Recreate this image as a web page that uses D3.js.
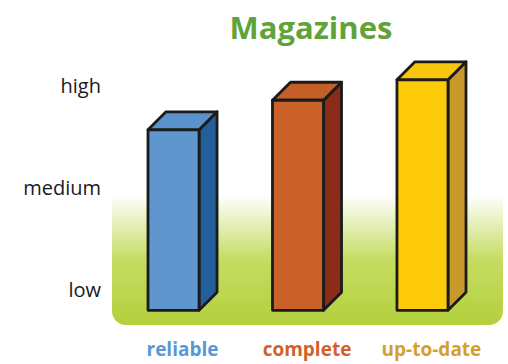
<!DOCTYPE html>
<html>
<head>
<meta charset="utf-8">
<script src="https://cdn.jsdelivr.net/npm/d3@7"></script>
<style>
  body { margin: 0; background: #fff; }
  svg { display: block; }
</style>
</head>
<body>
<svg id="chart"></svg>
<script>
const title = 'Magazines'
const categories = ['reliable', 'complete', 'up-to-date']
const values = [2.59, 2.88, 3.08]
const levelLabels = ['low', 'medium', 'high']
const levelValues = [1, 2, 3]
const baseValue = 0.82

const frontColors = ['#5f96cd', '#c96128', '#fdcb0a']
const sideColors = ['#235f9a', '#8b2c18', '#c89a2c']
const topColors = ['#5a93cb', '#c55f28', '#f8c60c']
const labelColors = ['#5b97d0', '#d0612c', '#d3a02e']

const w = 508
const h = 364
const depth = 18

const svg = d3.select('#chart').attr('width', w).attr('height', h)

const defs = svg.append('defs')
const grad = defs
  .append('linearGradient')
  .attr('id', 'panelGrad')
  .attr('x1', 0)
  .attr('y1', 0)
  .attr('x2', 0)
  .attr('y2', 1)
grad.append('stop').attr('offset', '0%').attr('stop-color', '#ffffff')
grad.append('stop').attr('offset', '10%').attr('stop-color', '#ffffff')
grad.append('stop').attr('offset', '55%').attr('stop-color', '#c6dc62')
grad.append('stop').attr('offset', '100%').attr('stop-color', '#b3d03c')

svg
  .append('rect')
  .attr('x', 112)
  .attr('y', 180)
  .attr('width', 391)
  .attr('height', 145)
  .attr('rx', 14)
  .attr('fill', 'url(#panelGrad)')

const x = d3.scaleBand().domain(categories).range([148, 448]).paddingInner(0.59).paddingOuter(0)
const y = d3.scaleLinear().domain([1, 3]).range([292, 88])

svg
  .append('text')
  .text(title)
  .attr('x', 311)
  .attr('y', 39)
  .attr('text-anchor', 'middle')
  .attr('font-family', 'Open Sans, sans-serif')
  .attr('font-weight', 'bold')
  .attr('font-size', 31)
  .attr('fill', '#5fa33a')

svg
  .append('g')
  .selectAll('text')
  .data(levelValues)
  .join('text')
  .attr('x', 101)
  .attr('y', (d) => y(d))
  .attr('text-anchor', 'end')
  .attr('dominant-baseline', 'middle')
  .attr('font-family', 'Open Sans, sans-serif')
  .attr('font-size', 20)
  .attr('fill', '#1a1a1a')
  .text((d, i) => levelLabels[i])

const bars = svg
  .append('g')
  .selectAll('g')
  .data(categories)
  .join('g')
  .attr('stroke', '#1b1b1b')
  .attr('stroke-width', 2.8)
  .attr('stroke-linejoin', 'round')

const y0 = y(baseValue)
const bw = x.bandwidth()

bars
  .append('path')
  .attr('fill', (d, i) => sideColors[i])
  .attr('d', (d, i) => {
    const x1 = x(d) + bw
    const yt = y(values[i])
    return `M${x1},${yt}L${x1 + depth},${yt - depth}L${x1 + depth},${y0 - depth}L${x1},${y0}Z`
  })

bars
  .append('path')
  .attr('fill', (d, i) => topColors[i])
  .attr('d', (d, i) => {
    const x0 = x(d)
    const yt = y(values[i])
    return `M${x0},${yt}L${x0 + depth},${yt - depth}L${x0 + bw + depth},${yt - depth}L${x0 + bw},${yt}Z`
  })

bars
  .append('rect')
  .attr('fill', (d, i) => frontColors[i])
  .attr('x', (d) => x(d))
  .attr('y', (d, i) => y(values[i]))
  .attr('width', bw)
  .attr('height', (d, i) => y0 - y(values[i]))

svg
  .append('g')
  .selectAll('text')
  .data(categories)
  .join('text')
  .attr('x', (d) => x(d) + bw / 2 + depth / 2)
  .attr('y', 351)
  .attr('text-anchor', 'middle')
  .attr('dominant-baseline', 'middle')
  .attr('font-family', 'Open Sans, sans-serif')
  .attr('font-weight', 'bold')
  .attr('font-size', 19)
  .attr('fill', (d, i) => labelColors[i])
  .text((d) => d)
</script>
</body>
</html>
